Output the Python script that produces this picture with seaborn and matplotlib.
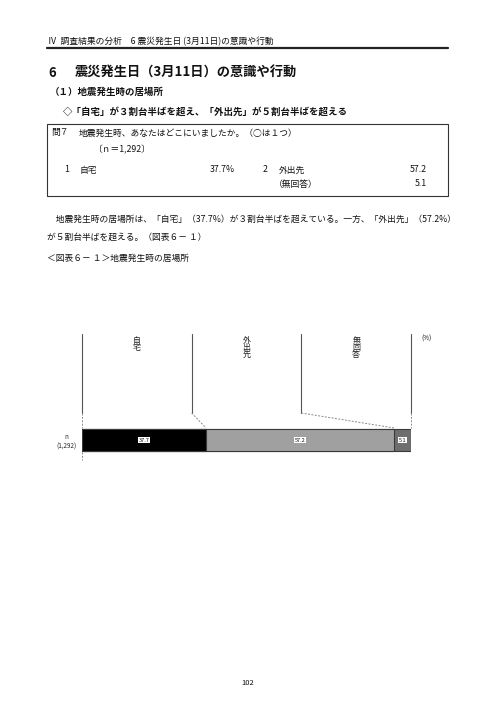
import numpy as np
import pandas as pd
import seaborn as sns
import matplotlib.pyplot as plt
from matplotlib.patches import Rectangle
from matplotlib.lines import Line2D

# data
categories = ["自宅", "外出先", "無回答"]
values = [37.7, 57.2, 5.1]
seg_colors = ["#000000", "#a0a0a0", "#6e6e6e"]
n_total = "1,292"
row_label = "n\n(" + n_total + ")"
page_no = "102"

sns.set_theme(style="white")
plt.rcParams['font.family'] = ['Noto Sans CJK JP', 'DejaVu Sans']

W, H = 496, 702
fig = plt.figure(figsize=(W / 100, H / 100), dpi=100)


def fx(px):
    return px / W


def fy(py):
    return 1 - py / H


def put(px, py, s, **kw):
    kw.setdefault("va", "center")
    kw.setdefault("color", "#111111")
    fig.text(fx(px), fy(py), s, **kw)


# page header
put(48, 42, "Ⅳ  調査結果の分析　6 震災発生日 (3月11日)の意識や行動", fontsize=6.3)
fig.add_artist(Line2D([fx(47), fx(448)], [fy(48), fy(48)], lw=1.6, color="#222222",
                      transform=fig.transFigure))

put(48, 73, "6", fontsize=9.5, fontweight="bold")
put(75, 73, "震災発生日（3月11日）の意識や行動", fontsize=9.5, fontweight="bold")
put(50, 92, "（１）地震発生時の居場所", fontsize=6.8, fontweight="bold")
put(63, 112, "◇「自宅」が３割台半ばを超え、「外出先」が５割台半ばを超える", fontsize=6.8, fontweight="bold")

# question box
fig.add_artist(Rectangle((fx(47), fy(196)), fx(448) - fx(47), (196 - 124) / H, fill=False,
                         lw=0.8, ec="#333333", transform=fig.transFigure))
put(51, 133, "問７", fontsize=6.3)
put(79, 133, "地震発生時、あなたはどこにいましたか。（○は１つ）", fontsize=6.3)
put(94, 150, "〔ｎ＝" + n_total + "〕", fontsize=6.3)
put(64, 170, "1", fontsize=6.3)
put(80, 170, categories[0], fontsize=6.3)
put(235, 170, f"{values[0]}%", fontsize=6.3, ha="right")
put(263, 170, "2", fontsize=6.3)
put(279, 170, categories[1], fontsize=6.3)
put(427, 170, f"{values[1]}", fontsize=6.3, ha="right")
put(274, 184, "（" + categories[2] + "）", fontsize=6.3)
put(427, 184, f"{values[2]}", fontsize=6.3, ha="right")

# body text
put(47, 219, f"　地震発生時の居場所は、「{categories[0]}」（{values[0]}%）が３割台半ばを超えている。"
             f"一方、「{categories[1]}」（{values[1]}%）", fontsize=6.3)
put(47, 237, "が５割台半ばを超える。（図表６－ １）", fontsize=6.3)
put(47, 258, "＜図表６－ １＞地震発生時の居場所", fontsize=6.3)

# chart
ax = fig.add_axes([fx(82), fy(462), fx(411) - fx(82), (462 - 330) / H])


def yd(py):
    return (py - 440) / 27.5


cum = np.cumsum(values)
df = pd.DataFrame({"row": [row_label] * len(values), "cum": cum, "cat": categories})
for i in range(len(values) - 1, -1, -1):
    sns.barplot(data=df.iloc[[i]], x="cum", y="row", color=seg_colors[i], saturation=1,
                edgecolor="#3a3a3a", linewidth=0.8, width=0.8, ax=ax)

left = np.concatenate([[0], cum[:-1]])
for l, v in zip(left, values):
    ax.text(l + v / 2, 0, f"{v}", ha="center", va="center", fontsize=4, color="#111111",
            bbox=dict(boxstyle="square,pad=0.15", fc="white", ec="none"))

sep = np.linspace(0, 100, len(categories) + 1)
bounds = np.concatenate([[0], cum])
for s in sep:
    ax.plot([s, s], [yd(334), yd(413)], color="#555555", lw=0.8, clip_on=False)
for s, b in zip(sep, bounds):
    ax.plot([s, b], [yd(413), yd(428)], color="#8a8a8a", lw=0.7, ls=(0, (2, 1.5)), clip_on=False)
ax.plot([0, 0], [yd(452), yd(460)], color="#8a8a8a", lw=0.7, ls=(0, (2, 1.5)), clip_on=False)

for i, c in enumerate(categories):
    ax.text((sep[i] + sep[i + 1]) / 2, yd(336), "\n".join(c), ha="center", va="top",
            fontsize=5.8, linespacing=0.72, color="#222222")
put(421, 339, "(%)", fontsize=4.5)

ax.set_xlim(0, 100)
ax.set_ylim(yd(462), yd(330))
ax.set_xlabel("")
ax.set_ylabel("")
ax.set_xticks([])
ax.tick_params(axis="y", length=0, pad=4, labelsize=4.5)
for lab in ax.get_yticklabels():
    lab.set_multialignment("center")
for sp in ax.spines.values():
    sp.set_visible(False)
ax.patch.set_alpha(0)

put(248, 683, page_no, fontsize=5.5, ha="center")

fig.savefig("out.png", dpi=100, facecolor="white")
